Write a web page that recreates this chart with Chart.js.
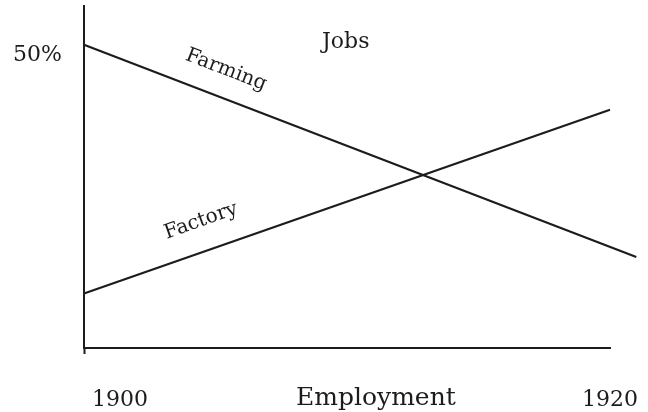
<!DOCTYPE html>
<html lang="en">
<head>
  <meta charset="UTF-8">
  <title>Jobs - Employment</title>
  <script src="https://cdn.jsdelivr.net/npm/chart.js"></script>
  <style>
    body { margin: 0; background: #fff; }
    canvas { display: block; }
  </style>
</head>
<body>
  <canvas id="jobsChart" width="648" height="412"></canvas>

  <script>
    // data (share of jobs, %)
    const farmingYears = [1900, 1921];
    const farmingShare = [50, 15];
    const factoryYears = [1900, 1920];
    const factoryShare = [9, 39.3];
    const yearLabels = ['1900', '1920'];

    const ink = '#1c1c1c';

    // hand-placed captions, like the original drawing
    const captions = {
      id: 'captions',
      afterDraw(chart) {
        const c = chart.ctx;
        c.save();
        c.fillStyle = ink;
        c.textBaseline = 'alphabetic';
        c.textAlign = 'left';

        c.font = '22px "DejaVu Serif"';
        c.fillText('50%', 13, 61);
        c.fillText('Jobs', 322, 48);
        c.fillText(yearLabels[0], 92, 406);
        c.fillText(yearLabels[1], 582, 406);

        c.font = '25px "DejaVu Serif"';
        c.fillText('Employment', 296, 405);

        c.font = '20px "DejaVu Serif"';
        c.textAlign = 'center';
        c.textBaseline = 'middle';
        c.translate(226, 70);
        c.rotate(21 * Math.PI / 180);
        c.fillText('Farming', 0, 0);
        c.setTransform(1, 0, 0, 1, 0, 0);
        c.translate(201, 221);
        c.rotate(-19.5 * Math.PI / 180);
        c.fillText('Factory', 0, 0);
        c.restore();
      }
    };

    new Chart(document.getElementById('jobsChart'), {
      type: 'line',
      data: {
        datasets: [
          {
            label: 'Farming',
            data: farmingYears.map((x, i) => ({ x, y: farmingShare[i] })),
            borderColor: ink,
            borderWidth: 2.2,
            pointRadius: 0,
            clip: false
          },
          {
            label: 'Factory',
            data: factoryYears.map((x, i) => ({ x, y: factoryShare[i] })),
            borderColor: ink,
            borderWidth: 2.2,
            pointRadius: 0,
            clip: false
          }
        ]
      },
      options: {
        responsive: false,
        animation: false,
        layout: { padding: { left: 76, top: 6, right: 38, bottom: 58 } },
        plugins: { legend: { display: false }, tooltip: { enabled: false } },
        scales: {
          x: {
            type: 'linear',
            min: 1900,
            max: 1920,
            ticks: { display: false, stepSize: 20 },
            grid: {
              drawOnChartArea: false,
              tickLength: 6,
              tickWidth: 2,
              color: ctx => ctx.index === 0 ? ink : 'transparent'
            },
            border: { display: true, color: ink, width: 2 }
          },
          y: {
            min: 0,
            max: 56.4,
            ticks: { display: false },
            grid: { display: false },
            border: { display: true, color: ink, width: 2 }
          }
        }
      },
      plugins: [captions]
    });
  </script>
</body>
</html>
